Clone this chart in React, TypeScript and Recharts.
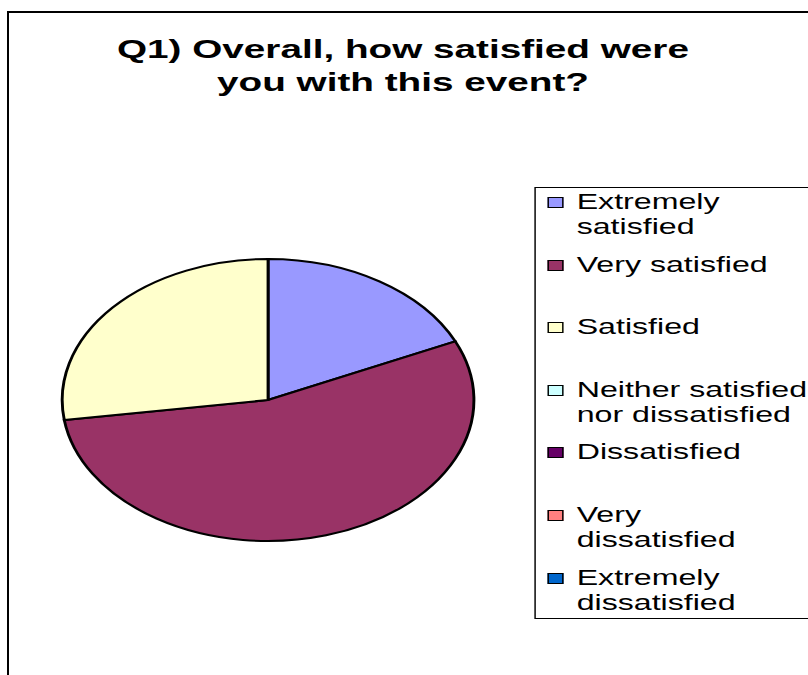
import { Cell, Legend, Pie, PieChart } from "recharts"

// survey answers, clockwise from 12 o'clock
const categories = [
  "Extremely satisfied",
  "Very satisfied",
  "Satisfied",
  "Neither satisfied nor dissatisfied",
  "Dissatisfied",
  "Very dissatisfied",
  "Extremely dissatisfied",
]
const responses = [2, 6, 3, 0, 0, 0, 0]
const colors = ["#9999FF", "#993366", "#FFFFCC", "#CCFFFF", "#660066", "#FF8080", "#0066CC"]
const legendLines = [
  ["Extremely", "satisfied"],
  ["Very satisfied"],
  ["Satisfied"],
  ["Neither satisfied", "nor dissatisfied"],
  ["Dissatisfied"],
  ["Very", "dissatisfied"],
  ["Extremely", "dissatisfied"],
]
const titleLines = ["Q1) Overall, how satisfied were", "you with this event?"]

const data = categories.map((name, i) => ({ name, value: responses[i] }))

// the old export is stretched sideways, so draw narrow and scale x
const STRETCH = 1.46
const W = 554
const H = 675
const FONT = "'Liberation Sans', Arial, sans-serif"

function LegendBox() {
  return (
    <div
      style={{
        position: "relative",
        width: "100%",
        height: "100%",
        boxSizing: "border-box",
        border: "1px solid #000",
        background: "#fff",
        fontFamily: FONT,
        fontSize: 22,
        color: "#000",
      }}
    >
      {legendLines.map((lines, i) => (
        <div key={i} style={{ position: "absolute", left: 0, top: 1 + i * 62.6, width: "100%" }}>
          <div
            style={{
              position: "absolute",
              left: 8,
              top: 8,
              width: 9,
              height: 9,
              background: colors[i],
              border: "1.5px solid #000",
            }}
          />
          <div style={{ marginLeft: 28, lineHeight: "25px", whiteSpace: "nowrap" }}>
            {lines.map((l) => (
              <div key={l}>{l}</div>
            ))}
          </div>
        </div>
      ))}
    </div>
  )
}

export default function App() {
  return (
    <div style={{ position: "absolute", left: 0, top: 0, width: 808, height: 675, overflow: "hidden", background: "#fff" }}>
      <div
        style={{
          position: "absolute",
          left: 7,
          top: 11,
          width: 900,
          height: 800,
          borderLeft: "2px solid #000",
          borderTop: "2px solid #000",
        }}
      />
      <div
        style={{
          position: "absolute",
          left: 0,
          top: 0,
          width: W,
          height: H,
          transform: `scaleX(${STRETCH})`,
          transformOrigin: "0 0",
        }}
      >
        <div
          style={{
            position: "absolute",
            left: 0,
            top: 33,
            width: 552,
            textAlign: "center",
            fontFamily: FONT,
            fontWeight: "bold",
            fontSize: 26.5,
            lineHeight: "33px",
            color: "#000",
          }}
        >
          {titleLines.map((t) => (
            <div key={t}>{t}</div>
          ))}
        </div>
        <PieChart width={W} height={H} margin={{ top: 0, right: 0, bottom: 0, left: 0 }}>
          <Pie
            data={data}
            dataKey="value"
            nameKey="name"
            cx={183.6}
            cy={400}
            outerRadius={141}
            startAngle={90}
            endAngle={-270}
            stroke="#000"
            strokeWidth={2}
            isAnimationActive={false}
          >
            {data.map((d, i) => (
              <Cell key={d.name} fill={colors[i]} />
            ))}
          </Pie>
          <Legend
            content={() => <LegendBox />}
            wrapperStyle={{ position: "absolute", left: 366, top: 187, width: 220, height: 432 }}
          />
        </PieChart>
      </div>
    </div>
  )
}
